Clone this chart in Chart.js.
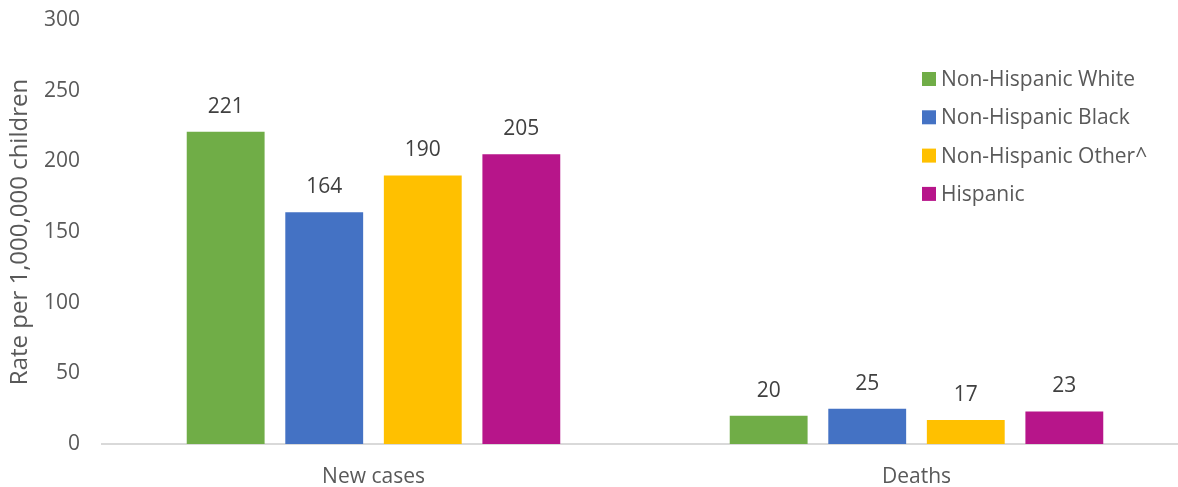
<!DOCTYPE html>
<html lang="en">
<head>
    <meta charset="UTF-8">
    <title>Rate per 1,000,000 children</title>
    <script src="https://cdn.jsdelivr.net/npm/chart.js"></script>
    <style>
        html, body { margin: 0; padding: 0; background: #fff; overflow: hidden; }
        .wrap { position: relative; width: 1188px; height: 487px; }
    </style>
</head>
<body>
    <div class="wrap">
        <canvas id="rateChart"></canvas>
    </div>

    <script>
        // Chart data
        const categories = ['New cases', 'Deaths'];
        const groups = ['Non-Hispanic White', 'Non-Hispanic Black', 'Non-Hispanic Other^', 'Hispanic'];
        const whiteValues = [221, 20];
        const blackValues = [164, 25];
        const otherValues = [190, 17];
        const hispanicValues = [205, 23];
        const yTicks = [0, 50, 100, 150, 200, 250, 300];

        const colors = ['#70ad47', '#4472c4', '#ffc000', '#b7158a'];
        const seriesValues = [whiteValues, blackValues, otherValues, hispanicValues];
        const fontFamily = "'Open Sans', 'Noto Sans', sans-serif";

        // value labels above the bars
        const barLabels = {
            id: 'barLabels',
            afterDatasetsDraw(chart) {
                const ctx = chart.ctx;
                ctx.save();
                ctx.font = '21px ' + fontFamily;
                ctx.fillStyle = '#404040';
                ctx.textAlign = 'center';
                ctx.textBaseline = 'middle';
                chart.data.datasets.forEach((ds, i) => {
                    chart.getDatasetMeta(i).data.forEach((bar, j) => {
                        ctx.fillText(ds.data[j], bar.x, bar.y - 25);
                    });
                });
                ctx.restore();
            }
        };

        // legend drawn inside the plot, top right
        const insideLegend = {
            id: 'insideLegend',
            afterDraw(chart) {
                const ctx = chart.ctx;
                ctx.save();
                ctx.font = '21px ' + fontFamily;
                ctx.textBaseline = 'middle';
                chart.data.datasets.forEach((ds, i) => {
                    const y = 79 + i * 38.3;
                    ctx.fillStyle = ds.backgroundColor;
                    ctx.fillRect(922, y - 7, 14, 14);
                    ctx.fillStyle = '#595959';
                    ctx.fillText(ds.label, 941, y + 1);
                });
                ctx.restore();
            }
        };

        new Chart(document.getElementById('rateChart'), {
            type: 'bar',
            data: {
                labels: categories,
                datasets: groups.map((g, i) => ({
                    label: g,
                    data: seriesValues[i],
                    backgroundColor: colors[i],
                    categoryPercentage: 0.726,
                    barPercentage: 0.79
                }))
            },
            options: {
                responsive: true,
                maintainAspectRatio: false,
                animation: false,
                layout: { padding: { top: 20, right: 0, bottom: 0, left: 0 } },
                plugins: {
                    legend: { display: false },
                    tooltip: { enabled: false }
                },
                scales: {
                    x: {
                        grid: { display: false, drawTicks: false },
                        border: { color: '#d9d9d9', width: 2 },
                        ticks: {
                            color: '#595959',
                            font: { family: fontFamily, size: 21 },
                            padding: 20
                        },
                        afterFit(scale) { scale.height = 43; }
                    },
                    y: {
                        min: 0,
                        max: 300,
                        afterBuildTicks(scale) { scale.ticks = yTicks.map(v => ({ value: v })); },
                        grid: { display: false, drawTicks: false },
                        border: { display: false },
                        ticks: {
                            color: '#595959',
                            font: { family: fontFamily, size: 21 },
                            padding: 22
                        },
                        title: {
                            display: true,
                            text: 'Rate per 1,000,000 children',
                            color: '#595959',
                            font: { family: fontFamily, size: 24 },
                            padding: { top: 6, bottom: 0 }
                        },
                        afterFit(scale) {
                            scale.width = 102;
                            // tick padding should not push the plot top down
                            scale.paddingTop = 0;
                            scale.paddingBottom = 0;
                        }
                    }
                }
            },
            plugins: [barLabels, insideLegend]
        });
    </script>
</body>
</html>
